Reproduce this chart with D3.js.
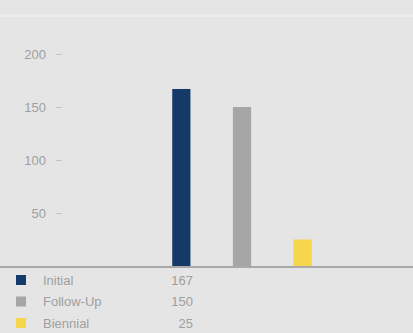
<!DOCTYPE html>
<html>
<head>
<meta charset="utf-8">
<script src="https://cdn.jsdelivr.net/npm/d3@7"></script>
<style>
  html, body { margin: 0; padding: 0; background: #e5e5e5; }
  svg { display: block; font-family: "Liberation Sans", Arial, sans-serif; }
</style>
</head>
<body>
<svg id="chart" width="413" height="333"></svg>
<script>
// Screening counts by type
const categories = ["Initial", "Follow-Up", "Biennial"];
const values = [167, 150, 25];
const colors = ["#153a68", "#a6a6a6", "#f5d64c"];
const yTicks = [50, 100, 150, 200];

const W = 413, H = 333;
const svg = d3.select("#chart");

svg.append("rect").attr("width", W).attr("height", H).attr("fill", "#e5e5e5");
// soft divider band under the header
svg.append("rect").attr("x", 0).attr("y", 14).attr("width", W).attr("height", 3)
  .attr("fill", "#ececec");

const y = d3.scaleLinear().domain([0, 200]).range([266, 54]);
const x = d3.scaleBand().domain(categories).range([151, 333]).paddingInner(0.7).paddingOuter(0.35);

// y axis (no domain line)
const yAxis = d3.axisLeft(y).tickValues(yTicks).tickSize(6).tickPadding(10);
const gy = svg.append("g").attr("transform", "translate(62,0)").call(yAxis);
gy.select(".domain").remove();
gy.selectAll(".tick line").attr("stroke", "#c4c4c4");
gy.selectAll(".tick text").attr("fill", "#9f9f9f").attr("font-size", 13);

// bars
svg.append("g").selectAll("rect").data(values).join("rect")
  .attr("x", (d, i) => x(categories[i]))
  .attr("width", x.bandwidth())
  .attr("y", d => y(d))
  .attr("height", d => y(0) - y(d))
  .attr("fill", (d, i) => colors[i]);

// baseline
svg.append("line").attr("x1", 0).attr("x2", W).attr("y1", y(0) + 1).attr("y2", y(0) + 1)
  .attr("stroke", "#a9a9a9").attr("stroke-width", 2);

// legend table
const legend = svg.append("g").selectAll("g").data(categories).join("g")
  .attr("transform", (d, i) => `translate(0,${280 + i * 21.5})`);
legend.append("rect").attr("x", 16).attr("y", -5).attr("width", 10).attr("height", 10)
  .attr("fill", (d, i) => colors[i]);
legend.append("text").attr("x", 43).attr("y", 0).attr("dy", "0.35em").attr("font-size", 13)
  .attr("fill", "#9f9f9f").text(d => d);
legend.append("text").attr("x", 193).attr("y", 0).attr("dy", "0.35em").attr("font-size", 13)
  .attr("text-anchor", "end").attr("fill", "#9f9f9f").text((d, i) => values[i]);
</script>
</body>
</html>
